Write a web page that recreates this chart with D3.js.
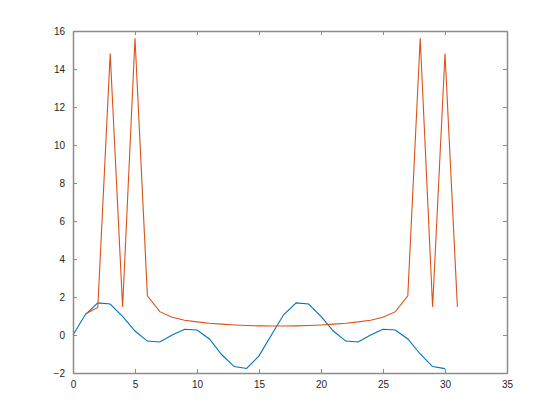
<!DOCTYPE html>
<html>
<head>
  <meta charset="utf-8">
  <script src="https://d3js.org/d3.v7.min.js"></script>
  <style>
    body { margin: 0; background: #fff; }
    .tick text { font: 10px "Liberation Sans", Arial, sans-serif; fill: #262626; }
    .line { fill: none; stroke-width: 1.1px; }
  </style>
</head>
<body>
  <svg width="560" height="420"></svg>
  <script>
    // series values
    const blueX = d3.range(0, 31);
    const blueY = [0, 1.08, 1.69, 1.63, 0.98, 0.21, -0.32, -0.37, 0.0, 0.3, 0.26, -0.21,
                   -1.04, -1.66, -1.76, -1.1, 0.0, 1.08, 1.69, 1.63, 0.98, 0.21, -0.32,
                   -0.37, 0.0, 0.3, 0.26, -0.21, -1.0, -1.66, -1.77];
    const orangeX = d3.range(1, 32);
    const orangeY = [1.1, 1.45, 14.82, 1.47, 15.62, 2.06, 1.23, 0.93, 0.78, 0.69, 0.62,
                     0.57, 0.53, 0.5, 0.48, 0.47, 0.47, 0.48, 0.5, 0.53, 0.57, 0.62, 0.69,
                     0.78, 0.93, 1.23, 2.06, 15.62, 1.47, 14.82, 1.47];
    const xTicks = [0, 5, 10, 15, 20, 25, 30, 35];
    const yTicks = [-2, 0, 2, 4, 6, 8, 10, 12, 14, 16];

    const svg = d3.select("svg");
    const mLeft = 73, mRight = 507, mTop = 31, mBottom = 373;

    const x = d3.scaleLinear().domain([0, 35]).range([mLeft, mRight]);
    const y = d3.scaleLinear().domain([-2, 16]).range([mBottom, mTop]);

    const line = d3.line().x(d => x(d[0])).y(d => y(d[1]));

    svg.append("path")
      .datum(blueX.map((v, i) => [v, blueY[i]]))
      .attr("class", "line")
      .attr("stroke", "#0072BD")
      .attr("d", line);

    svg.append("path")
      .datum(orangeX.map((v, i) => [v, orangeY[i]]))
      .attr("class", "line")
      .attr("stroke", "#D95319")
      .attr("d", line);

    // box and inward ticks on all sides
    const styleAxis = g => {
      g.select(".domain").attr("stroke", "#8c8c8c").attr("stroke-width", 1.5);
      g.selectAll(".tick line").attr("stroke", "#8c8c8c").attr("stroke-width", 1);
    };

    svg.append("g")
      .attr("transform", `translate(0,${mBottom})`)
      .call(d3.axisBottom(x).tickValues(xTicks).tickSizeInner(-4).tickSizeOuter(0).tickPadding(8))
      .call(styleAxis);
    svg.append("g")
      .attr("transform", `translate(0,${mTop})`)
      .call(d3.axisTop(x).tickValues(xTicks).tickSizeInner(-4).tickSizeOuter(0).tickFormat(""))
      .call(styleAxis);
    svg.append("g")
      .attr("transform", `translate(${mLeft},0)`)
      .call(d3.axisLeft(y).tickValues(yTicks).tickSizeInner(-4).tickSizeOuter(0).tickPadding(8))
      .call(styleAxis);
    svg.append("g")
      .attr("transform", `translate(${mRight},0)`)
      .call(d3.axisRight(y).tickValues(yTicks).tickSizeInner(-4).tickSizeOuter(0).tickFormat(""))
      .call(styleAxis);
  </script>
</body>
</html>
